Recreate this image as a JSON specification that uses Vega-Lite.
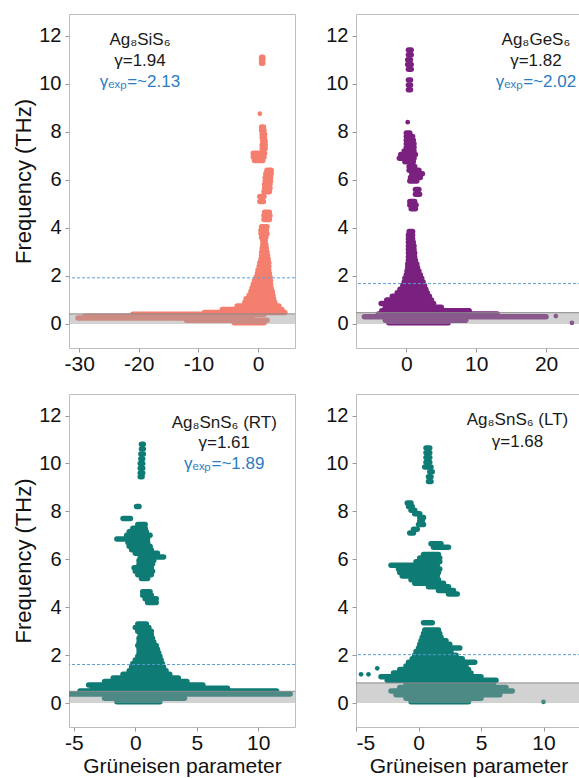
{
"$schema": "https://vega.github.io/schema/vega-lite/v6.json",
"padding": {"left": 12, "top": 13, "right": 0, "bottom": 0},
"config": {
  "font": "Liberation Sans",
  "view": {"stroke": "#bdbdbd", "strokeWidth": 1},
  "axis": {"grid": false, "domain": false, "labelFontSize": 20, "titleFontSize": 22, "titleFontWeight": "normal", "labelColor": "#111111", "titleColor": "#111111", "tickColor": "#9a9a9a", "tickSize": 4, "labelPadding": 4, "titlePadding": 3},
  "axisX": {"labelFontSize": 21, "labelPadding": 1, "titlePadding": 2, "titleFontSize": 21, "labelExpr": "replace(datum.label, '−', '-')"}
},
"datasets": {
"segs": [
{"p":"A","f":0.05,"g1":-4,"g2":1},
{"p":"A","f":0.15,"g1":-12,"g2":1.5},
{"p":"A","f":0.25,"g1":-30.2,"g2":-4},
{"p":"A","f":0.32,"g1":-29,"g2":-1},
{"p":"A","f":0.4,"g1":-21,"g2":1},
{"p":"A","f":0.48,"g1":-9,"g2":4.5},
{"p":"A","f":0.6,"g1":-6,"g2":4},
{"p":"A","f":0.75,"g1":-3.5,"g2":3.5},
{"p":"A","f":0.9,"g1":-2.2,"g2":2.8},
{"p":"A","f":1.05,"g1":-2,"g2":2.6},
{"p":"A","f":1.2,"g1":-1.5,"g2":2.5},
{"p":"A","f":1.35,"g1":-1.2,"g2":2.4},
{"p":"A","f":1.5,"g1":-1,"g2":2.2},
{"p":"A","f":1.65,"g1":-0.8,"g2":2.1},
{"p":"A","f":1.8,"g1":-0.6,"g2":2.1},
{"p":"A","f":1.95,"g1":-0.3,"g2":2},
{"p":"A","f":2.1,"g1":-0.1,"g2":1.9},
{"p":"A","f":2.25,"g1":0,"g2":1.8},
{"p":"A","f":2.4,"g1":0.2,"g2":1.8},
{"p":"A","f":2.55,"g1":0.3,"g2":1.8},
{"p":"A","f":2.7,"g1":0.5,"g2":1.7},
{"p":"A","f":2.85,"g1":0.6,"g2":1.6},
{"p":"A","f":3.0,"g1":0.6,"g2":1.5},
{"p":"A","f":3.15,"g1":0.7,"g2":1.4},
{"p":"A","f":3.3,"g1":0.8,"g2":1.3},
{"p":"A","f":3.45,"g1":0.8,"g2":1.2},
{"p":"A","f":3.6,"g1":0.6,"g2":1.3},
{"p":"A","f":3.75,"g1":0.5,"g2":1.5},
{"p":"A","f":3.9,"g1":0.5,"g2":1.4},
{"p":"A","f":4.05,"g1":0.6,"g2":1.5},
{"p":"A","f":4.35,"g1":1,"g2":1.9},
{"p":"A","f":4.5,"g1":1,"g2":2},
{"p":"A","f":4.65,"g1":1.1,"g2":1.9},
{"p":"A","f":5.1,"g1":0.3,"g2":0.9},
{"p":"A","f":5.3,"g1":0.3,"g2":1},
{"p":"A","f":5.5,"g1":1,"g2":1.9},
{"p":"A","f":5.65,"g1":1.1,"g2":2},
{"p":"A","f":5.8,"g1":1.1,"g2":2},
{"p":"A","f":5.95,"g1":1.2,"g2":2.1},
{"p":"A","f":6.1,"g1":1.2,"g2":2.1},
{"p":"A","f":6.25,"g1":1.3,"g2":2.2},
{"p":"A","f":6.4,"g1":1.5,"g2":2.2},
{"p":"A","f":6.8,"g1":-0.6,"g2":0.8},
{"p":"A","f":6.95,"g1":-0.8,"g2":1},
{"p":"A","f":7.1,"g1":-0.8,"g2":1.1},
{"p":"A","f":7.3,"g1":0.7,"g2":1.2},
{"p":"A","f":7.45,"g1":0.7,"g2":1.2},
{"p":"A","f":7.6,"g1":0.8,"g2":1.2},
{"p":"A","f":7.75,"g1":0.7,"g2":1.1},
{"p":"A","f":7.9,"g1":0.7,"g2":1.1},
{"p":"A","f":8.05,"g1":0.6,"g2":1},
{"p":"A","f":8.2,"g1":0.6,"g2":0.9},
{"p":"A","f":10.85,"g1":0.6,"g2":0.8},
{"p":"A","f":11.0,"g1":0.6,"g2":0.8},
{"p":"A","f":11.1,"g1":0.6,"g2":0.8},
{"p":"B","f":0.05,"g1":-2.5,"g2":6},
{"p":"B","f":0.15,"g1":-3,"g2":8.5},
{"p":"B","f":0.3,"g1":-6,"g2":20},
{"p":"B","f":0.42,"g1":-4,"g2":13},
{"p":"B","f":0.55,"g1":-3.5,"g2":9},
{"p":"B","f":0.7,"g1":-3,"g2":5},
{"p":"B","f":0.85,"g1":-3.6,"g2":3.9},
{"p":"B","f":1.0,"g1":-2.8,"g2":3.6},
{"p":"B","f":1.15,"g1":-2,"g2":3.3},
{"p":"B","f":1.3,"g1":-1.3,"g2":3},
{"p":"B","f":1.45,"g1":-0.9,"g2":2.8},
{"p":"B","f":1.6,"g1":-0.5,"g2":2.6},
{"p":"B","f":1.75,"g1":-0.3,"g2":2.4},
{"p":"B","f":1.9,"g1":-0.2,"g2":2.2},
{"p":"B","f":2.05,"g1":0,"g2":2},
{"p":"B","f":2.2,"g1":0.1,"g2":1.8},
{"p":"B","f":2.35,"g1":0.2,"g2":1.6},
{"p":"B","f":2.5,"g1":0.2,"g2":1.5},
{"p":"B","f":2.65,"g1":0.3,"g2":1.3},
{"p":"B","f":2.8,"g1":0.3,"g2":1.2},
{"p":"B","f":2.95,"g1":0.3,"g2":1.2},
{"p":"B","f":3.1,"g1":0.3,"g2":1.1},
{"p":"B","f":3.25,"g1":0.3,"g2":1.1},
{"p":"B","f":3.4,"g1":0.3,"g2":1},
{"p":"B","f":3.55,"g1":0.3,"g2":0.9},
{"p":"B","f":3.7,"g1":0.3,"g2":0.9},
{"p":"B","f":3.85,"g1":0.4,"g2":0.9},
{"p":"B","f":4.8,"g1":0.7,"g2":1.3},
{"p":"B","f":4.95,"g1":0.5,"g2":1.4},
{"p":"B","f":5.1,"g1":0.5,"g2":1.2},
{"p":"B","f":5.4,"g1":1.3,"g2":1.9},
{"p":"B","f":5.6,"g1":1.3,"g2":1.8},
{"p":"B","f":5.95,"g1":0.5,"g2":1.5},
{"p":"B","f":6.1,"g1":0.6,"g2":2},
{"p":"B","f":6.25,"g1":0.8,"g2":2.3},
{"p":"B","f":6.4,"g1":0.4,"g2":1.8},
{"p":"B","f":6.55,"g1":0.4,"g2":1.2},
{"p":"B","f":6.75,"g1":-0.2,"g2":1},
{"p":"B","f":6.9,"g1":-1,"g2":1.1},
{"p":"B","f":7.05,"g1":-0.8,"g2":1.3},
{"p":"B","f":7.2,"g1":-0.3,"g2":1.1},
{"p":"B","f":7.35,"g1":0,"g2":1.1},
{"p":"B","f":7.5,"g1":0,"g2":1.1},
{"p":"B","f":7.65,"g1":0,"g2":1},
{"p":"B","f":7.8,"g1":0,"g2":0.9},
{"p":"B","f":7.95,"g1":0,"g2":0.5},
{"p":"B","f":9.75,"g1":0.3,"g2":0.6},
{"p":"B","f":9.95,"g1":0.3,"g2":0.6},
{"p":"B","f":10.15,"g1":0.3,"g2":0.6},
{"p":"B","f":10.6,"g1":0.3,"g2":0.7},
{"p":"B","f":10.8,"g1":0.2,"g2":0.7},
{"p":"B","f":11.0,"g1":0.2,"g2":0.6},
{"p":"B","f":11.2,"g1":0.3,"g2":0.7},
{"p":"B","f":11.4,"g1":0.3,"g2":0.7},
{"p":"C","f":0.05,"g1":-1.5,"g2":2},
{"p":"C","f":0.2,"g1":-2.5,"g2":4},
{"p":"C","f":0.38,"g1":-5.3,"g2":12.6},
{"p":"C","f":0.5,"g1":-4.5,"g2":11.5},
{"p":"C","f":0.62,"g1":-3.5,"g2":7.5},
{"p":"C","f":0.75,"g1":-3.8,"g2":5.5},
{"p":"C","f":0.9,"g1":-2.5,"g2":4.2},
{"p":"C","f":1.05,"g1":-1.8,"g2":3.5},
{"p":"C","f":1.2,"g1":-1,"g2":2.8},
{"p":"C","f":1.35,"g1":-0.5,"g2":2.5},
{"p":"C","f":1.5,"g1":-0.3,"g2":2.3},
{"p":"C","f":1.65,"g1":-0.2,"g2":2.2},
{"p":"C","f":1.8,"g1":0,"g2":2.1},
{"p":"C","f":1.95,"g1":0.2,"g2":2},
{"p":"C","f":2.1,"g1":0.3,"g2":1.9},
{"p":"C","f":2.25,"g1":0.3,"g2":1.8},
{"p":"C","f":2.4,"g1":0.2,"g2":1.7},
{"p":"C","f":2.55,"g1":0.3,"g2":1.5},
{"p":"C","f":2.7,"g1":0.3,"g2":1.4},
{"p":"C","f":2.85,"g1":0.4,"g2":1.3},
{"p":"C","f":3.0,"g1":0.2,"g2":1.3},
{"p":"C","f":3.15,"g1":0,"g2":1.1},
{"p":"C","f":3.3,"g1":0.2,"g2":0.9},
{"p":"C","f":4.2,"g1":1,"g2":1.7},
{"p":"C","f":4.35,"g1":0.8,"g2":1.7},
{"p":"C","f":4.5,"g1":0.6,"g2":1.3},
{"p":"C","f":4.65,"g1":0.6,"g2":1.2},
{"p":"C","f":5.2,"g1":0.5,"g2":1},
{"p":"C","f":5.35,"g1":0.2,"g2":1.3},
{"p":"C","f":5.5,"g1":0,"g2":1.4},
{"p":"C","f":5.65,"g1":-0.1,"g2":1.3},
{"p":"C","f":5.8,"g1":0.3,"g2":1.4},
{"p":"C","f":5.95,"g1":0.3,"g2":1.5},
{"p":"C","f":6.1,"g1":0.4,"g2":2.3},
{"p":"C","f":6.25,"g1":0,"g2":1.8},
{"p":"C","f":6.4,"g1":-0.3,"g2":1.3},
{"p":"C","f":6.55,"g1":-0.5,"g2":1.2},
{"p":"C","f":6.7,"g1":-0.6,"g2":1},
{"p":"C","f":6.85,"g1":-1.5,"g2":1},
{"p":"C","f":7.0,"g1":-0.7,"g2":1.2},
{"p":"C","f":7.15,"g1":-0.5,"g2":0.9},
{"p":"C","f":7.3,"g1":-0.2,"g2":0.8},
{"p":"C","f":7.45,"g1":0.2,"g2":0.8},
{"p":"C","f":7.7,"g1":-1,"g2":-0.4},
{"p":"C","f":8.2,"g1":0.1,"g2":0.3},
{"p":"C","f":9.45,"g1":0.4,"g2":0.55},
{"p":"C","f":9.6,"g1":0.4,"g2":0.6},
{"p":"C","f":9.8,"g1":0.4,"g2":0.6},
{"p":"C","f":10.0,"g1":0.4,"g2":0.6},
{"p":"C","f":10.2,"g1":0.45,"g2":0.6},
{"p":"C","f":10.4,"g1":0.45,"g2":0.65},
{"p":"C","f":10.6,"g1":0.5,"g2":0.65},
{"p":"C","f":10.8,"g1":0.5,"g2":0.65},
{"p":"D","f":0.05,"g1":-0.6,"g2":4},
{"p":"D","f":0.2,"g1":-1,"g2":5},
{"p":"D","f":0.35,"g1":-1.8,"g2":6.5},
{"p":"D","f":0.5,"g1":-2.2,"g2":7.5},
{"p":"D","f":0.65,"g1":-1.5,"g2":7},
{"p":"D","f":0.8,"g1":-1,"g2":6},
{"p":"D","f":0.95,"g1":-2.5,"g2":6.2},
{"p":"D","f":1.1,"g1":-3,"g2":5},
{"p":"D","f":1.25,"g1":-2,"g2":4.2},
{"p":"D","f":1.4,"g1":-1.5,"g2":4},
{"p":"D","f":1.55,"g1":-1,"g2":3.8},
{"p":"D","f":1.7,"g1":-0.8,"g2":4.5},
{"p":"D","f":1.85,"g1":-0.5,"g2":3.5},
{"p":"D","f":2.0,"g1":-0.3,"g2":3},
{"p":"D","f":2.15,"g1":-0.2,"g2":2.6},
{"p":"D","f":2.3,"g1":0,"g2":3.3},
{"p":"D","f":2.45,"g1":0.1,"g2":2.5},
{"p":"D","f":2.6,"g1":0.2,"g2":2.2},
{"p":"D","f":2.75,"g1":0.3,"g2":1.8},
{"p":"D","f":2.9,"g1":0.4,"g2":1.7},
{"p":"D","f":3.05,"g1":0.5,"g2":1.6},
{"p":"D","f":3.35,"g1":0.4,"g2":1.1},
{"p":"D","f":4.55,"g1":2.4,"g2":3.1},
{"p":"D","f":4.7,"g1":1.6,"g2":2.8},
{"p":"D","f":4.85,"g1":0.8,"g2":2.4},
{"p":"D","f":5.0,"g1":-0.3,"g2":2},
{"p":"D","f":5.15,"g1":-0.6,"g2":1.6},
{"p":"D","f":5.3,"g1":-1.3,"g2":1.5},
{"p":"D","f":5.45,"g1":-1.5,"g2":1.6},
{"p":"D","f":5.6,"g1":-1.6,"g2":1.7},
{"p":"D","f":5.75,"g1":-2.2,"g2":1.5},
{"p":"D","f":5.9,"g1":-0.2,"g2":1.7},
{"p":"D","f":6.05,"g1":0.1,"g2":1.7},
{"p":"D","f":6.2,"g1":0.4,"g2":1.6},
{"p":"D","f":6.5,"g1":1.2,"g2":2.4},
{"p":"D","f":6.65,"g1":1,"g2":1.8},
{"p":"D","f":7.1,"g1":-0.7,"g2":-0.4},
{"p":"D","f":7.25,"g1":-0.4,"g2":-0.1},
{"p":"D","f":7.45,"g1":0,"g2":0.4},
{"p":"D","f":7.6,"g1":0.1,"g2":0.3},
{"p":"D","f":7.75,"g1":0.1,"g2":0.4},
{"p":"D","f":7.9,"g1":-0.3,"g2":0.1},
{"p":"D","f":8.05,"g1":-0.6,"g2":-0.3},
{"p":"D","f":8.2,"g1":-0.8,"g2":-0.5},
{"p":"D","f":8.35,"g1":-0.9,"g2":-0.6},
{"p":"D","f":9.25,"g1":0.8,"g2":1},
{"p":"D","f":9.45,"g1":0.8,"g2":1},
{"p":"D","f":9.65,"g1":0.9,"g2":1.1},
{"p":"D","f":9.85,"g1":0.5,"g2":1},
{"p":"D","f":10.05,"g1":0.6,"g2":0.9},
{"p":"D","f":10.25,"g1":0.6,"g2":0.9},
{"p":"D","f":10.45,"g1":0.6,"g2":0.9},
{"p":"D","f":10.65,"g1":0.6,"g2":0.9}
],
"dots": [
{"p":"A","g":0.3,"f":8.75},
{"p":"B","g":0.2,"f":8.4},
{"p":"B","g":21.4,"f":0.33},
{"p":"B","g":23.7,"f":0.05},
{"p":"D","g":10,"f":0.05},
{"p":"D","g":-4.6,"f":1.2},
{"p":"D","g":-4,"f":1.2},
{"p":"D","g":-3.3,"f":1.45}
],
"refs": [
{"p":"A","lo":0,"band":0.42,"dash":1.92,"xlo":-31.7,"xhi":6.2},
{"p":"B","lo":0,"band":0.47,"dash":1.68,"xlo":-7.2,"xhi":25},
{"p":"C","lo":0,"band":0.49,"dash":1.61,"xlo":-5.4,"xhi":13},
{"p":"D","lo":0,"band":0.84,"dash":2.02,"xlo":-5,"xhi":13}
],
"labels": [
{"p":"A","g":-19.8,"f":11.8,"t":"Ag₈SiS₆","c":"k"},
{"p":"A","g":-19.8,"f":10.95,"t":"γ=1.94","c":"k"},
{"p":"A","g":-19.8,"f":10.08,"t":"γₑₓₚ=~2.13","c":"b"},
{"p":"B","g":18.55,"f":11.8,"t":"Ag₈GeS₆","c":"k"},
{"p":"B","g":18.55,"f":10.95,"t":"γ=1.82","c":"k"},
{"p":"B","g":18.55,"f":10.08,"t":"γₑₓₚ=~2.02","c":"b"},
{"p":"C","g":7.24,"f":11.7,"t":"Ag₈SnS₆ (RT)","c":"k"},
{"p":"C","g":7.24,"f":10.84,"t":"γ=1.61","c":"k"},
{"p":"C","g":7.24,"f":9.99,"t":"γₑₓₚ=~1.89","c":"b"},
{"p":"D","g":7.92,"f":11.8,"t":"Ag₈SnS₆ (LT)","c":"k"},
{"p":"D","g":7.92,"f":10.9,"t":"γ=1.68","c":"k"}
]
},
"columns": 2,
"spacing": {"row": 46, "column": 61},
"bounds": "flush",
"resolve": {"scale": {"x": "independent", "y": "independent"}},
"concat": [
{
 "width": 226, "height": 334,
 "layer": [
  {"data": {"name": "segs"}, "transform": [{"filter": "datum.p==='A'"}],
   "mark": {"type": "rule", "strokeWidth": 5.5, "strokeCap": "round", "color": "#f47f6f", "clip": true},
   "encoding": {
    "x": {"field": "g1", "type": "quantitative", "scale": {"domain": [-31.7, 6.2], "nice": false, "zero": false}, "axis": {"values": [-30, -20, -10, 0]}, "title": null},
    "x2": {"field": "g2"},
    "y": {"field": "f", "type": "quantitative", "scale": {"domain": [-1, 12.9], "nice": false, "zero": false}, "axis": {"values": [0, 2, 4, 6, 8, 10, 12]}, "title": "Frequency (THz)"}}},
  {"data": {"name": "dots"}, "transform": [{"filter": "datum.p==='A'"}],
   "mark": {"type": "circle", "size": 22, "opacity": 1, "color": "#f47f6f", "clip": true},
   "encoding": {
    "x": {"field": "g", "type": "quantitative", "scale": {"domain": [-31.7, 6.2], "nice": false, "zero": false}, "title": null},
    "y": {"field": "f", "type": "quantitative", "scale": {"domain": [-1, 12.9], "nice": false, "zero": false}, "title": "Frequency (THz)"}}},
  {"data": {"name": "refs"}, "transform": [{"filter": "datum.p==='A'"}],
   "mark": {"type": "rect", "color": "#9c9c9c", "opacity": 0.45},
   "encoding": {
    "x": {"field": "xlo", "type": "quantitative", "scale": {"domain": [-31.7, 6.2], "nice": false, "zero": false}, "title": null},
    "x2": {"field": "xhi"},
    "y": {"field": "lo", "type": "quantitative", "scale": {"domain": [-1, 12.9], "nice": false, "zero": false}, "title": "Frequency (THz)"},
    "y2": {"field": "band"}}},
  {"data": {"name": "refs"}, "transform": [{"filter": "datum.p==='A'"}],
   "mark": {"type": "rule", "color": "#8a8a8a", "strokeWidth": 1},
   "encoding": {"y": {"field": "band", "type": "quantitative", "scale": {"domain": [-1, 12.9], "nice": false, "zero": false}, "title": "Frequency (THz)"}}},
  {"data": {"name": "refs"}, "transform": [{"filter": "datum.p==='A'"}],
   "mark": {"type": "rule", "color": "#5b9bd5", "strokeWidth": 1, "strokeDash": [3, 2]},
   "encoding": {"y": {"field": "dash", "type": "quantitative", "scale": {"domain": [-1, 12.9], "nice": false, "zero": false}, "title": "Frequency (THz)"}}},
  {"data": {"name": "labels"}, "transform": [{"filter": "datum.p==='A'"}],
   "mark": {"type": "text", "fontSize": 17, "align": "center", "baseline": "middle"},
   "encoding": {
    "x": {"field": "g", "type": "quantitative", "scale": {"domain": [-31.7, 6.2], "nice": false, "zero": false}, "title": null},
    "y": {"field": "f", "type": "quantitative", "scale": {"domain": [-1, 12.9], "nice": false, "zero": false}, "title": "Frequency (THz)"},
    "text": {"field": "t"},
    "color": {"field": "c", "type": "nominal", "scale": {"domain": ["k", "b"], "range": ["#1a1a1a", "#2b7cc1"]}, "legend": null}}}
 ]
},
{
 "width": 225, "height": 334,
 "layer": [
  {"data": {"name": "segs"}, "transform": [{"filter": "datum.p==='B'"}],
   "mark": {"type": "rule", "strokeWidth": 5.5, "strokeCap": "round", "color": "#7a2180", "clip": true},
   "encoding": {
    "x": {"field": "g1", "type": "quantitative", "scale": {"domain": [-7.2, 25], "nice": false, "zero": false}, "axis": {"values": [0, 10, 20]}, "title": null},
    "x2": {"field": "g2"},
    "y": {"field": "f", "type": "quantitative", "scale": {"domain": [-1, 12.9], "nice": false, "zero": false}, "axis": {"values": [0, 2, 4, 6, 8, 10, 12]}, "title": null}}},
  {"data": {"name": "dots"}, "transform": [{"filter": "datum.p==='B'"}],
   "mark": {"type": "circle", "size": 22, "opacity": 1, "color": "#7a2180", "clip": true},
   "encoding": {
    "x": {"field": "g", "type": "quantitative", "scale": {"domain": [-7.2, 25], "nice": false, "zero": false}, "title": null},
    "y": {"field": "f", "type": "quantitative", "scale": {"domain": [-1, 12.9], "nice": false, "zero": false}, "title": null}}},
  {"data": {"name": "refs"}, "transform": [{"filter": "datum.p==='B'"}],
   "mark": {"type": "rect", "color": "#9c9c9c", "opacity": 0.45},
   "encoding": {
    "x": {"field": "xlo", "type": "quantitative", "scale": {"domain": [-7.2, 25], "nice": false, "zero": false}, "title": null},
    "x2": {"field": "xhi"},
    "y": {"field": "lo", "type": "quantitative", "scale": {"domain": [-1, 12.9], "nice": false, "zero": false}, "title": null},
    "y2": {"field": "band"}}},
  {"data": {"name": "refs"}, "transform": [{"filter": "datum.p==='B'"}],
   "mark": {"type": "rule", "color": "#8a8a8a", "strokeWidth": 1},
   "encoding": {"y": {"field": "band", "type": "quantitative", "scale": {"domain": [-1, 12.9], "nice": false, "zero": false}, "title": null}}},
  {"data": {"name": "refs"}, "transform": [{"filter": "datum.p==='B'"}],
   "mark": {"type": "rule", "color": "#5b9bd5", "strokeWidth": 1, "strokeDash": [3, 2]},
   "encoding": {"y": {"field": "dash", "type": "quantitative", "scale": {"domain": [-1, 12.9], "nice": false, "zero": false}, "title": null}}},
  {"data": {"name": "labels"}, "transform": [{"filter": "datum.p==='B'"}],
   "mark": {"type": "text", "fontSize": 17, "align": "center", "baseline": "middle"},
   "encoding": {
    "x": {"field": "g", "type": "quantitative", "scale": {"domain": [-7.2, 25], "nice": false, "zero": false}, "title": null},
    "y": {"field": "f", "type": "quantitative", "scale": {"domain": [-1, 12.9], "nice": false, "zero": false}, "title": null},
    "text": {"field": "t"},
    "color": {"field": "c", "type": "nominal", "scale": {"domain": ["k", "b"], "range": ["#1a1a1a", "#2b7cc1"]}, "legend": null}}}
 ]
},
{
 "width": 226, "height": 333,
 "layer": [
  {"data": {"name": "segs"}, "transform": [{"filter": "datum.p==='C'"}],
   "mark": {"type": "rule", "strokeWidth": 5.5, "strokeCap": "round", "color": "#0e7c74", "clip": true},
   "encoding": {
    "x": {"field": "g1", "type": "quantitative", "scale": {"domain": [-5.4, 13], "nice": false, "zero": false}, "axis": {"values": [-5, 0, 5, 10]}, "title": "Grüneisen parameter"},
    "x2": {"field": "g2"},
    "y": {"field": "f", "type": "quantitative", "scale": {"domain": [-1, 12.9], "nice": false, "zero": false}, "axis": {"values": [0, 2, 4, 6, 8, 10, 12]}, "title": "Frequency (THz)"}}},
  {"data": {"name": "refs"}, "transform": [{"filter": "datum.p==='C'"}],
   "mark": {"type": "rect", "color": "#9c9c9c", "opacity": 0.45},
   "encoding": {
    "x": {"field": "xlo", "type": "quantitative", "scale": {"domain": [-5.4, 13], "nice": false, "zero": false}, "title": "Grüneisen parameter"},
    "x2": {"field": "xhi"},
    "y": {"field": "lo", "type": "quantitative", "scale": {"domain": [-1, 12.9], "nice": false, "zero": false}, "title": "Frequency (THz)"},
    "y2": {"field": "band"}}},
  {"data": {"name": "refs"}, "transform": [{"filter": "datum.p==='C'"}],
   "mark": {"type": "rule", "color": "#8a8a8a", "strokeWidth": 1},
   "encoding": {"y": {"field": "band", "type": "quantitative", "scale": {"domain": [-1, 12.9], "nice": false, "zero": false}, "title": "Frequency (THz)"}}},
  {"data": {"name": "refs"}, "transform": [{"filter": "datum.p==='C'"}],
   "mark": {"type": "rule", "color": "#5b9bd5", "strokeWidth": 1, "strokeDash": [3, 2]},
   "encoding": {"y": {"field": "dash", "type": "quantitative", "scale": {"domain": [-1, 12.9], "nice": false, "zero": false}, "title": "Frequency (THz)"}}},
  {"data": {"name": "labels"}, "transform": [{"filter": "datum.p==='C'"}],
   "mark": {"type": "text", "fontSize": 17, "align": "center", "baseline": "middle"},
   "encoding": {
    "x": {"field": "g", "type": "quantitative", "scale": {"domain": [-5.4, 13], "nice": false, "zero": false}, "title": "Grüneisen parameter"},
    "y": {"field": "f", "type": "quantitative", "scale": {"domain": [-1, 12.9], "nice": false, "zero": false}, "title": "Frequency (THz)"},
    "text": {"field": "t"},
    "color": {"field": "c", "type": "nominal", "scale": {"domain": ["k", "b"], "range": ["#1a1a1a", "#2b7cc1"]}, "legend": null}}}
 ]
},
{
 "width": 225, "height": 333,
 "layer": [
  {"data": {"name": "segs"}, "transform": [{"filter": "datum.p==='D'"}],
   "mark": {"type": "rule", "strokeWidth": 5.5, "strokeCap": "round", "color": "#0e7c74", "clip": true},
   "encoding": {
    "x": {"field": "g1", "type": "quantitative", "scale": {"domain": [-5, 13], "nice": false, "zero": false}, "axis": {"values": [-5, 0, 5, 10]}, "title": "Grüneisen parameter"},
    "x2": {"field": "g2"},
    "y": {"field": "f", "type": "quantitative", "scale": {"domain": [-1, 12.9], "nice": false, "zero": false}, "axis": {"values": [0, 2, 4, 6, 8, 10, 12]}, "title": null}}},
  {"data": {"name": "dots"}, "transform": [{"filter": "datum.p==='D'"}],
   "mark": {"type": "circle", "size": 22, "opacity": 1, "color": "#0e7c74", "clip": true},
   "encoding": {
    "x": {"field": "g", "type": "quantitative", "scale": {"domain": [-5, 13], "nice": false, "zero": false}, "title": "Grüneisen parameter"},
    "y": {"field": "f", "type": "quantitative", "scale": {"domain": [-1, 12.9], "nice": false, "zero": false}, "title": null}}},
  {"data": {"name": "refs"}, "transform": [{"filter": "datum.p==='D'"}],
   "mark": {"type": "rect", "color": "#9c9c9c", "opacity": 0.45},
   "encoding": {
    "x": {"field": "xlo", "type": "quantitative", "scale": {"domain": [-5, 13], "nice": false, "zero": false}, "title": "Grüneisen parameter"},
    "x2": {"field": "xhi"},
    "y": {"field": "lo", "type": "quantitative", "scale": {"domain": [-1, 12.9], "nice": false, "zero": false}, "title": null},
    "y2": {"field": "band"}}},
  {"data": {"name": "refs"}, "transform": [{"filter": "datum.p==='D'"}],
   "mark": {"type": "rule", "color": "#8a8a8a", "strokeWidth": 1},
   "encoding": {"y": {"field": "band", "type": "quantitative", "scale": {"domain": [-1, 12.9], "nice": false, "zero": false}, "title": null}}},
  {"data": {"name": "refs"}, "transform": [{"filter": "datum.p==='D'"}],
   "mark": {"type": "rule", "color": "#5b9bd5", "strokeWidth": 1, "strokeDash": [3, 2]},
   "encoding": {"y": {"field": "dash", "type": "quantitative", "scale": {"domain": [-1, 12.9], "nice": false, "zero": false}, "title": null}}},
  {"data": {"name": "labels"}, "transform": [{"filter": "datum.p==='D'"}],
   "mark": {"type": "text", "fontSize": 17, "align": "center", "baseline": "middle"},
   "encoding": {
    "x": {"field": "g", "type": "quantitative", "scale": {"domain": [-5, 13], "nice": false, "zero": false}, "title": "Grüneisen parameter"},
    "y": {"field": "f", "type": "quantitative", "scale": {"domain": [-1, 12.9], "nice": false, "zero": false}, "title": null},
    "text": {"field": "t"},
    "color": {"field": "c", "type": "nominal", "scale": {"domain": ["k", "b"], "range": ["#1a1a1a", "#2b7cc1"]}, "legend": null}}}
 ]
}
]
}
